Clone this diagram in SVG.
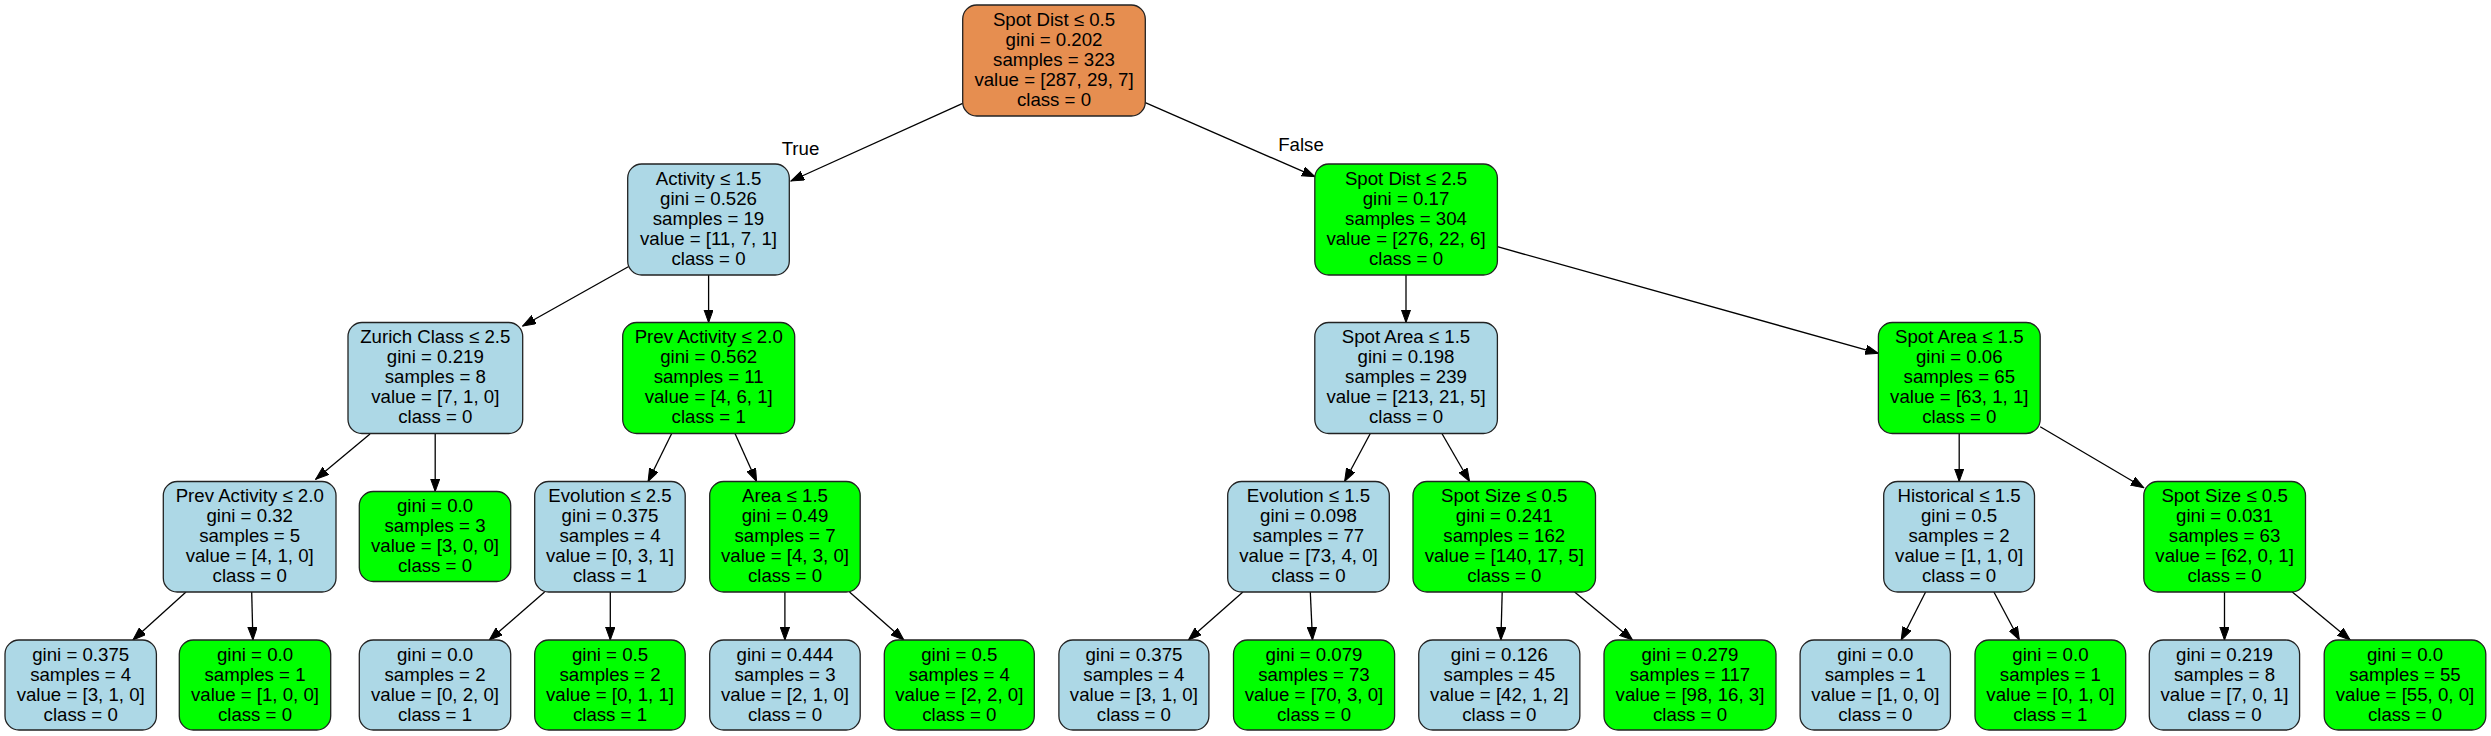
<svg xmlns="http://www.w3.org/2000/svg" width="2491" height="736" viewBox="0 0 2491 736">
<style>
.b{stroke:#222;stroke-width:1.3}
.blue{fill:#ADD8E6}
.green{fill:#00FF00}
.orange{fill:#E68E50}
text{font-family:"Liberation Sans",Arial,sans-serif;font-size:18.67px;fill:#000;text-anchor:middle}
.e line{stroke:#000;stroke-width:1.3;marker-end:url(#ah)}
</style>
<defs>
<marker id="ah" markerUnits="userSpaceOnUse" markerWidth="14" markerHeight="10" refX="13" refY="4.7" orient="auto">
<path d="M0,0 L13,4.7 L0,9.4 z" fill="#000" stroke="#000" stroke-width="1"/>
</marker>
</defs>
<rect width="2491" height="736" fill="#fff"/>
<g id="edges" class="e">
<line x1="962.7" y1="103.3" x2="791" y2="181"/>
<line x1="1145.3" y1="102.7" x2="1315" y2="176.7"/>
<line x1="628.3" y1="266.7" x2="522.7" y2="326"/>
<line x1="708.6" y1="275" x2="708.6" y2="322.5"/>
<line x1="370" y1="434" x2="315.7" y2="479.3"/>
<line x1="435.2" y1="433.5" x2="435.2" y2="491.5"/>
<line x1="186" y1="592" x2="132.9" y2="640"/>
<line x1="251.7" y1="592" x2="252.9" y2="640"/>
<line x1="671.7" y1="433.5" x2="648.1" y2="481.5"/>
<line x1="735" y1="433.5" x2="756.6" y2="481.5"/>
<line x1="544.6" y1="592" x2="489.3" y2="640"/>
<line x1="610.3" y1="592" x2="610.3" y2="640"/>
<line x1="784.9" y1="592" x2="784.9" y2="640"/>
<line x1="849.5" y1="592" x2="903.9" y2="640"/>
<line x1="1406" y1="275" x2="1406" y2="322.5"/>
<line x1="1497.4" y1="246.7" x2="1878.4" y2="353.3"/>
<line x1="1370.3" y1="433.5" x2="1344.6" y2="481.5"/>
<line x1="1441.9" y1="433.5" x2="1469.6" y2="481.5"/>
<line x1="1242.9" y1="592" x2="1188.4" y2="640"/>
<line x1="1310.3" y1="592" x2="1312.5" y2="640"/>
<line x1="1502.2" y1="592" x2="1500.9" y2="640"/>
<line x1="1574.6" y1="592" x2="1632.6" y2="640"/>
<line x1="1959.2" y1="433.5" x2="1959.2" y2="481.5"/>
<line x1="2040.2" y1="426.7" x2="2143.8" y2="487.7"/>
<line x1="1925.6" y1="592" x2="1901.2" y2="640"/>
<line x1="1993.9" y1="592" x2="2019.4" y2="640"/>
<line x1="2224.5" y1="592" x2="2224.5" y2="640"/>
<line x1="2292.3" y1="592" x2="2350.2" y2="640"/>
<text x="800.5" y="155">True</text>
<text x="1301" y="151">False</text>
</g>
<g id="n0"><rect class="b orange" x="962.7" y="5" width="182.6" height="111" rx="14"/><text x="1054" y="25.5">Spot Dist ≤ 0.5<tspan x="1054" dy="20">gini = 0.202</tspan><tspan x="1054" dy="20">samples = 323</tspan><tspan x="1054" dy="20">value = [287, 29, 7]</tspan><tspan x="1054" dy="20">class = 0</tspan></text></g>
<g id="n1"><rect class="b blue" x="627.7" y="164" width="161.6" height="111" rx="14"/><text x="708.5" y="184.5">Activity ≤ 1.5<tspan x="708.5" dy="20">gini = 0.526</tspan><tspan x="708.5" dy="20">samples = 19</tspan><tspan x="708.5" dy="20">value = [11, 7, 1]</tspan><tspan x="708.5" dy="20">class = 0</tspan></text></g>
<g id="n2"><rect class="b green" x="1314.8" y="164" width="182.6" height="111" rx="14"/><text x="1406" y="184.5">Spot Dist ≤ 2.5<tspan x="1406" dy="20">gini = 0.17</tspan><tspan x="1406" dy="20">samples = 304</tspan><tspan x="1406" dy="20">value = [276, 22, 6]</tspan><tspan x="1406" dy="20">class = 0</tspan></text></g>
<g id="n3"><rect class="b blue" x="348" y="322.5" width="174.7" height="111" rx="14"/><text x="435.3" y="343">Zurich Class ≤ 2.5<tspan x="435.3" dy="20">gini = 0.219</tspan><tspan x="435.3" dy="20">samples = 8</tspan><tspan x="435.3" dy="20">value = [7, 1, 0]</tspan><tspan x="435.3" dy="20">class = 0</tspan></text></g>
<g id="n4"><rect class="b green" x="622.7" y="322.5" width="172" height="111" rx="14"/><text x="708.7" y="343">Prev Activity ≤ 2.0<tspan x="708.7" dy="20">gini = 0.562</tspan><tspan x="708.7" dy="20">samples = 11</tspan><tspan x="708.7" dy="20">value = [4, 6, 1]</tspan><tspan x="708.7" dy="20">class = 1</tspan></text></g>
<g id="n5"><rect class="b blue" x="1314.8" y="322.5" width="182.6" height="111" rx="14"/><text x="1406" y="343">Spot Area ≤ 1.5<tspan x="1406" dy="20">gini = 0.198</tspan><tspan x="1406" dy="20">samples = 239</tspan><tspan x="1406" dy="20">value = [213, 21, 5]</tspan><tspan x="1406" dy="20">class = 0</tspan></text></g>
<g id="n6"><rect class="b green" x="1878.4" y="322.5" width="161.8" height="111" rx="14"/><text x="1959.3" y="343">Spot Area ≤ 1.5<tspan x="1959.3" dy="20">gini = 0.06</tspan><tspan x="1959.3" dy="20">samples = 65</tspan><tspan x="1959.3" dy="20">value = [63, 1, 1]</tspan><tspan x="1959.3" dy="20">class = 0</tspan></text></g>
<g id="n7"><rect class="b blue" x="163.3" y="481.5" width="172.7" height="110.5" rx="14"/><text x="249.7" y="502">Prev Activity ≤ 2.0<tspan x="249.7" dy="20">gini = 0.32</tspan><tspan x="249.7" dy="20">samples = 5</tspan><tspan x="249.7" dy="20">value = [4, 1, 0]</tspan><tspan x="249.7" dy="20">class = 0</tspan></text></g>
<g id="n8"><rect class="b green" x="359.3" y="491.5" width="151.4" height="90" rx="14"/><text x="435" y="512">gini = 0.0<tspan x="435" dy="20">samples = 3</tspan><tspan x="435" dy="20">value = [3, 0, 0]</tspan><tspan x="435" dy="20">class = 0</tspan></text></g>
<g id="n9"><rect class="b blue" x="534.7" y="481.5" width="150.5" height="110.5" rx="14"/><text x="610" y="502">Evolution ≤ 2.5<tspan x="610" dy="20">gini = 0.375</tspan><tspan x="610" dy="20">samples = 4</tspan><tspan x="610" dy="20">value = [0, 3, 1]</tspan><tspan x="610" dy="20">class = 1</tspan></text></g>
<g id="n10"><rect class="b green" x="709.7" y="481.5" width="150.5" height="110.5" rx="14"/><text x="785" y="502">Area ≤ 1.5<tspan x="785" dy="20">gini = 0.49</tspan><tspan x="785" dy="20">samples = 7</tspan><tspan x="785" dy="20">value = [4, 3, 0]</tspan><tspan x="785" dy="20">class = 0</tspan></text></g>
<g id="n11"><rect class="b blue" x="1227.7" y="481.5" width="161.6" height="110.5" rx="14"/><text x="1308.5" y="502">Evolution ≤ 1.5<tspan x="1308.5" dy="20">gini = 0.098</tspan><tspan x="1308.5" dy="20">samples = 77</tspan><tspan x="1308.5" dy="20">value = [73, 4, 0]</tspan><tspan x="1308.5" dy="20">class = 0</tspan></text></g>
<g id="n12"><rect class="b green" x="1413" y="481.5" width="182.5" height="110.5" rx="14"/><text x="1504.3" y="502">Spot Size ≤ 0.5<tspan x="1504.3" dy="20">gini = 0.241</tspan><tspan x="1504.3" dy="20">samples = 162</tspan><tspan x="1504.3" dy="20">value = [140, 17, 5]</tspan><tspan x="1504.3" dy="20">class = 0</tspan></text></g>
<g id="n13"><rect class="b blue" x="1883.7" y="481.5" width="150.8" height="110.5" rx="14"/><text x="1959.1" y="502">Historical ≤ 1.5<tspan x="1959.1" dy="20">gini = 0.5</tspan><tspan x="1959.1" dy="20">samples = 2</tspan><tspan x="1959.1" dy="20">value = [1, 1, 0]</tspan><tspan x="1959.1" dy="20">class = 0</tspan></text></g>
<g id="n14"><rect class="b green" x="2143.8" y="481.5" width="161.7" height="110.5" rx="14"/><text x="2224.6" y="502">Spot Size ≤ 0.5<tspan x="2224.6" dy="20">gini = 0.031</tspan><tspan x="2224.6" dy="20">samples = 63</tspan><tspan x="2224.6" dy="20">value = [62, 0, 1]</tspan><tspan x="2224.6" dy="20">class = 0</tspan></text></g>
<g id="n15"><rect class="b blue" x="5" y="640" width="151.4" height="90" rx="14"/><text x="80.7" y="660.5">gini = 0.375<tspan x="80.7" dy="20">samples = 4</tspan><tspan x="80.7" dy="20">value = [3, 1, 0]</tspan><tspan x="80.7" dy="20">class = 0</tspan></text></g>
<g id="n16"><rect class="b green" x="179.3" y="640" width="151.4" height="90" rx="14"/><text x="255" y="660.5">gini = 0.0<tspan x="255" dy="20">samples = 1</tspan><tspan x="255" dy="20">value = [1, 0, 0]</tspan><tspan x="255" dy="20">class = 0</tspan></text></g>
<g id="n17"><rect class="b blue" x="359.3" y="640" width="151.4" height="90" rx="14"/><text x="435" y="660.5">gini = 0.0<tspan x="435" dy="20">samples = 2</tspan><tspan x="435" dy="20">value = [0, 2, 0]</tspan><tspan x="435" dy="20">class = 1</tspan></text></g>
<g id="n18"><rect class="b green" x="534.7" y="640" width="150.5" height="90" rx="14"/><text x="610" y="660.5">gini = 0.5<tspan x="610" dy="20">samples = 2</tspan><tspan x="610" dy="20">value = [0, 1, 1]</tspan><tspan x="610" dy="20">class = 1</tspan></text></g>
<g id="n19"><rect class="b blue" x="709.7" y="640" width="150.5" height="90" rx="14"/><text x="785" y="660.5">gini = 0.444<tspan x="785" dy="20">samples = 3</tspan><tspan x="785" dy="20">value = [2, 1, 0]</tspan><tspan x="785" dy="20">class = 0</tspan></text></g>
<g id="n20"><rect class="b green" x="884.3" y="640" width="150" height="90" rx="14"/><text x="959.3" y="660.5">gini = 0.5<tspan x="959.3" dy="20">samples = 4</tspan><tspan x="959.3" dy="20">value = [2, 2, 0]</tspan><tspan x="959.3" dy="20">class = 0</tspan></text></g>
<g id="n21"><rect class="b blue" x="1058.9" y="640" width="150" height="90" rx="14"/><text x="1133.9" y="660.5">gini = 0.375<tspan x="1133.9" dy="20">samples = 4</tspan><tspan x="1133.9" dy="20">value = [3, 1, 0]</tspan><tspan x="1133.9" dy="20">class = 0</tspan></text></g>
<g id="n22"><rect class="b green" x="1233.5" y="640" width="161.1" height="90" rx="14"/><text x="1314" y="660.5">gini = 0.079<tspan x="1314" dy="20">samples = 73</tspan><tspan x="1314" dy="20">value = [70, 3, 0]</tspan><tspan x="1314" dy="20">class = 0</tspan></text></g>
<g id="n23"><rect class="b blue" x="1418.75" y="640" width="161.1" height="90" rx="14"/><text x="1499.3" y="660.5">gini = 0.126<tspan x="1499.3" dy="20">samples = 45</tspan><tspan x="1499.3" dy="20">value = [42, 1, 2]</tspan><tspan x="1499.3" dy="20">class = 0</tspan></text></g>
<g id="n24"><rect class="b green" x="1604" y="640" width="172" height="90" rx="14"/><text x="1690" y="660.5">gini = 0.279<tspan x="1690" dy="20">samples = 117</tspan><tspan x="1690" dy="20">value = [98, 16, 3]</tspan><tspan x="1690" dy="20">class = 0</tspan></text></g>
<g id="n25"><rect class="b blue" x="1800.1" y="640" width="150.3" height="90" rx="14"/><text x="1875.3" y="660.5">gini = 0.0<tspan x="1875.3" dy="20">samples = 1</tspan><tspan x="1875.3" dy="20">value = [1, 0, 0]</tspan><tspan x="1875.3" dy="20">class = 0</tspan></text></g>
<g id="n26"><rect class="b green" x="1975" y="640" width="150.7" height="90" rx="14"/><text x="2050.4" y="660.5">gini = 0.0<tspan x="2050.4" dy="20">samples = 1</tspan><tspan x="2050.4" dy="20">value = [0, 1, 0]</tspan><tspan x="2050.4" dy="20">class = 1</tspan></text></g>
<g id="n27"><rect class="b blue" x="2149.3" y="640" width="150.3" height="90" rx="14"/><text x="2224.5" y="660.5">gini = 0.219<tspan x="2224.5" dy="20">samples = 8</tspan><tspan x="2224.5" dy="20">value = [7, 0, 1]</tspan><tspan x="2224.5" dy="20">class = 0</tspan></text></g>
<g id="n28"><rect class="b green" x="2324.2" y="640" width="161.6" height="90" rx="14"/><text x="2405" y="660.5">gini = 0.0<tspan x="2405" dy="20">samples = 55</tspan><tspan x="2405" dy="20">value = [55, 0, 0]</tspan><tspan x="2405" dy="20">class = 0</tspan></text></g>
</svg>
